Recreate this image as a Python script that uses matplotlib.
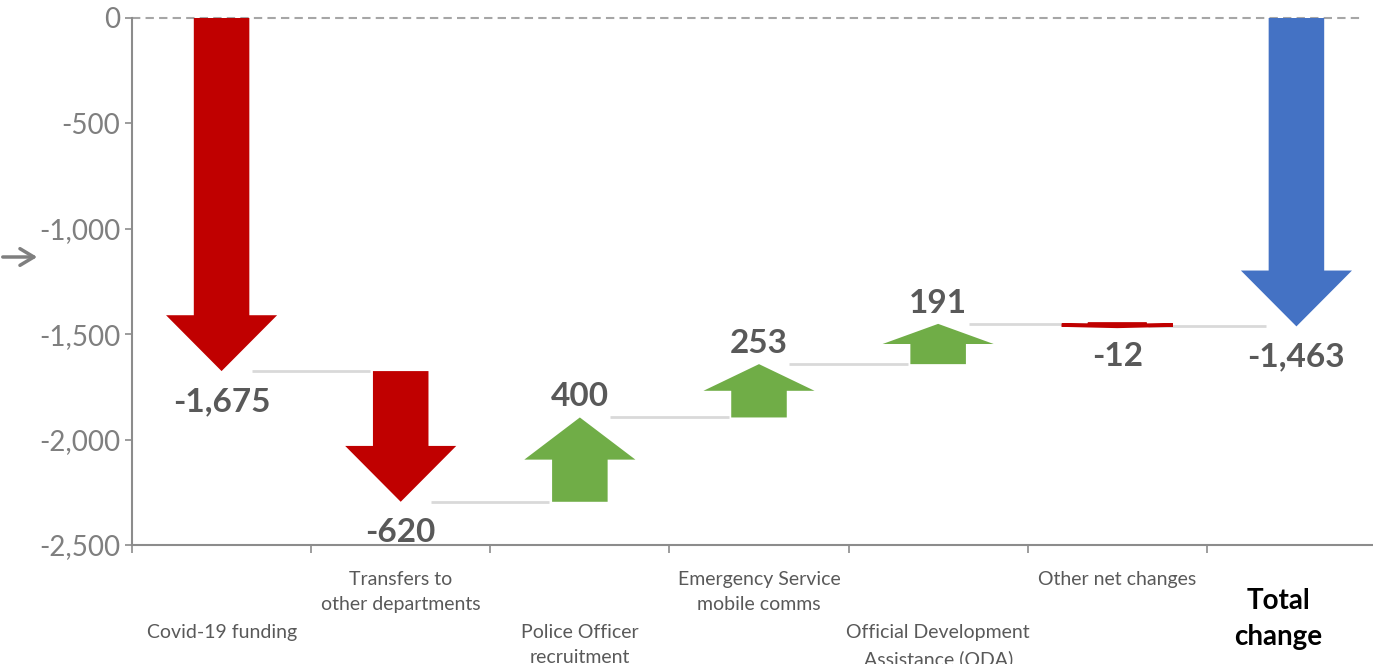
import numpy as np
import matplotlib
matplotlib.use("Agg")
import matplotlib.pyplot as plt
from matplotlib.transforms import blended_transform_factory
from matplotlib.patches import FancyArrowPatch

plt.rcParams['font.family'] = ['Lato', 'DejaVu Sans']

categories = ["Covid-19 funding", "Transfers to\nother departments", "Police Officer\nrecruitment",
              "Emergency Service\nmobile comms", "Official Development\nAssistance (ODA)",
              "Other net changes"]
changes = [-1675, -620, 400, 253, 191, -12]
total_label = "Total\nchange"
total = -1463
yticks = [0, -500, -1000, -1500, -2000, -2500]

RED, GREEN, BLUE = "#C00000", "#70AD47", "#4472C4"
LABEL = "#595959"

fig = plt.figure(figsize=(13.73, 6.64), dpi=100)
ax = fig.add_axes([132/1373, 119/664, 1254/1373, 527/664])
ax.set_xlim(-0.5, 6.5)
ax.set_ylim(-2500, 0)
xfig = blended_transform_factory(ax.transData, fig.transFigure)

def fmt(v):
    return f"{v:,.0f}"

def draw_arrow(x, start, dv, color):
    hl = min(0.5 * abs(dv), 265)
    # tiny changes get an outline so the arrow stays visible
    edge = 2.5 if abs(dv) < 50 else 0
    ax.arrow(x, start, 0, dv, width=0.31, head_width=0.62, head_length=hl,
             length_includes_head=True, fc=color, ec=color, lw=edge, clip_on=False, zorder=3)
    off = 15 if dv > 0 else -22
    ax.annotate(fmt(dv), (x, start + dv), xytext=(0, off), textcoords='offset points',
                ha='center', va='center', fontsize=24, fontweight='bold', color=LABEL, zorder=4)

running = 0
for i, v in enumerate(changes):
    draw_arrow(i, running, v, GREEN if v > 0 else RED)
    end = running + v
    ax.plot([i + 0.17, i + 1 - 0.17], [end, end], color="#D9D9D9", lw=2, zorder=1,
            solid_capstyle='butt')
    running = end

draw_arrow(len(changes), 0, total, BLUE)

# zero line
ax.plot([-0.5, 6.37], [0, 0], color="#A6A6A6", lw=1.5, ls=(0, (4, 2.5)), zorder=2, clip_on=False)

for s in ["top", "right"]:
    ax.spines[s].set_visible(False)
for s in ["left", "bottom"]:
    ax.spines[s].set_color("#8C8C8C")
    ax.spines[s].set_linewidth(1.5)

ax.set_yticks(yticks)
ax.set_yticklabels([fmt(t) for t in yticks])
ax.tick_params(axis='y', labelsize=20, labelcolor="#7F7F7F", color="#8C8C8C", length=5, width=1.2)
ax.set_xticks(np.arange(-0.5, 7, 1))
ax.set_xticklabels([])
ax.tick_params(axis='x', color="#8C8C8C", length=6, width=1.2)

# staggered category labels
for i, lab in enumerate(categories):
    ypix = 578 if i % 2 == 1 else 631
    ax.text(i, 1 - (ypix - 7) / 664, lab, transform=xfig,
            ha='center', va='top', fontsize=14, color=LABEL, linespacing=1.6)

ax.text(5.9, 1 - 588 / 664, total_label, transform=xfig,
        ha='center', va='top', fontsize=20, fontweight='bold', color='black', linespacing=1.5)

# small pointer arrow on the left edge
fig.patches.append(FancyArrowPatch(
    (0.0, 1 - 257/664), (40/1373, 1 - 257/664), transform=fig.transFigure,
    arrowstyle='->,head_length=10,head_width=6', color="#7F7F7F", lw=2.5))

fig.savefig("out.png", dpi=100)
